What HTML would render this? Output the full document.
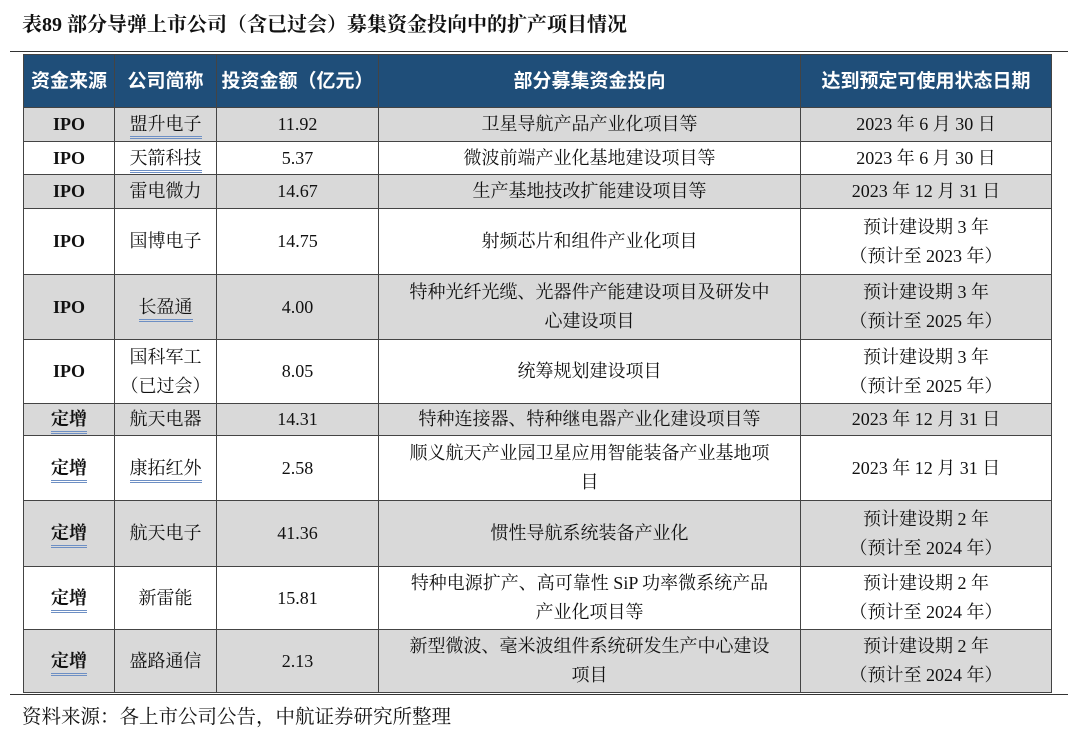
<!DOCTYPE html>
<html><head><meta charset="utf-8"><style>
body{margin:0;width:1080px;height:732px;background:#fff;font-family:"Liberation Serif","Noto Serif CJK SC",serif;color:#111;position:relative;overflow:hidden}
.title{position:absolute;left:22px;top:8px;font-size:20px;font-weight:bold}
.hr{position:absolute;left:10px;width:1058px;height:1px;background:#333}
table{position:absolute;left:23px;top:54px;border-collapse:collapse;width:1028px;font-size:18px;table-layout:fixed}
td,th{border:1.5px solid #444;text-align:center;padding:0 4px;line-height:29px;overflow:hidden}
th{background:#1f4e79;color:#fff;font-weight:bold;height:52px;font-family:"Liberation Sans","Noto Sans CJK SC",sans-serif;font-size:19px}
tr.g td{background:#d9d9d9}
.u{border-bottom:3px double #6d8fc4;line-height:24px;display:inline-block}
b{font-weight:bold}
.foot{position:absolute;left:22px;top:701px;font-size:19.5px}
</style></head><body>
<div class="title">表89 部分导弹上市公司（含已过会）募集资金投向中的扩产项目情况</div>
<div class="hr" style="top:51px"></div>
<table>
<colgroup><col style="width:91px"><col style="width:102px"><col style="width:162px"><col style="width:422px"><col style="width:251px"></colgroup>
<tr><th>资金来源</th><th>公司简称</th><th>投资金额（亿元）</th><th>部分募集资金投向</th><th>达到预定可使用状态日期</th></tr>
<tr class="g" style="height:34px"><td><b>IPO</b></td><td><span class="u">盟升电子</span></td><td>11.92</td><td>卫星导航产品产业化项目等</td><td>2023 年 6 月 30 日</td></tr>
<tr style="height:33px"><td><b>IPO</b></td><td><span class="u">天箭科技</span></td><td>5.37</td><td>微波前端产业化基地建设项目等</td><td>2023 年 6 月 30 日</td></tr>
<tr class="g" style="height:34px"><td><b>IPO</b></td><td>雷电微力</td><td>14.67</td><td>生产基地技改扩能建设项目等</td><td>2023 年 12 月 31 日</td></tr>
<tr style="height:66px"><td><b>IPO</b></td><td>国博电子</td><td>14.75</td><td>射频芯片和组件产业化项目</td><td>预计建设期 3 年<br>（预计至 2023 年）</td></tr>
<tr class="g" style="height:65px"><td><b>IPO</b></td><td><span class="u">长盈通</span></td><td>4.00</td><td>特种光纤光缆、光器件产能建设项目及研发中<br>心建设项目</td><td>预计建设期 3 年<br>（预计至 2025 年）</td></tr>
<tr style="height:64px"><td><b>IPO</b></td><td>国科军工<br>（已过会）</td><td>8.05</td><td>统筹规划建设项目</td><td>预计建设期 3 年<br>（预计至 2025 年）</td></tr>
<tr class="g" style="height:32px"><td><b class="u">定增</b></td><td>航天电器</td><td>14.31</td><td>特种连接器、特种继电器产业化建设项目等</td><td>2023 年 12 月 31 日</td></tr>
<tr style="height:65px"><td><b class="u">定增</b></td><td><span class="u">康拓红外</span></td><td>2.58</td><td>顺义航天产业园卫星应用智能装备产业基地项<br>目</td><td>2023 年 12 月 31 日</td></tr>
<tr class="g" style="height:66px"><td><b class="u">定增</b></td><td>航天电子</td><td>41.36</td><td>惯性导航系统装备产业化</td><td>预计建设期 2 年<br>（预计至 2024 年）</td></tr>
<tr style="height:63px"><td><b class="u">定增</b></td><td>新雷能</td><td>15.81</td><td>特种电源扩产、高可靠性 SiP 功率微系统产品<br>产业化项目等</td><td>预计建设期 2 年<br>（预计至 2024 年）</td></tr>
<tr class="g" style="height:63px"><td><b class="u">定增</b></td><td>盛路通信</td><td>2.13</td><td>新型微波、毫米波组件系统研发生产中心建设<br>项目</td><td>预计建设期 2 年<br>（预计至 2024 年）</td></tr>
</table>
<div class="hr" style="top:694px"></div>
<div class="foot">资料来源：各上市公司公告，中航证券研究所整理</div>
</body></html>
